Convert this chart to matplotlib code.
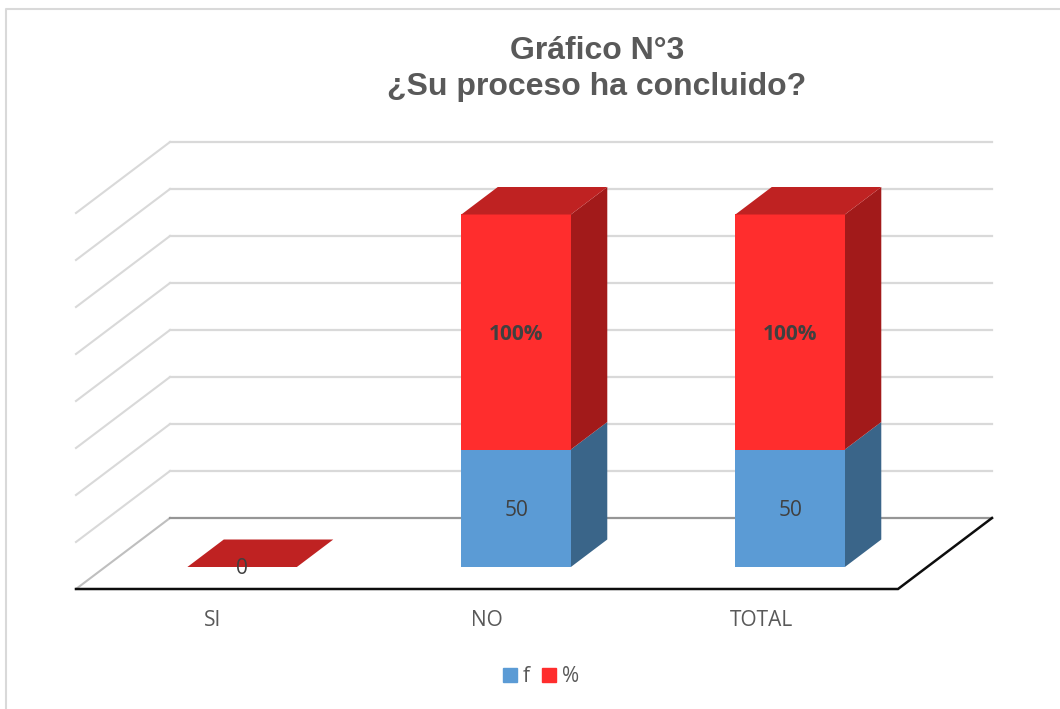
import matplotlib
matplotlib.use('Agg')
import matplotlib.pyplot as plt
from matplotlib.lines import Line2D
from matplotlib.patches import Patch

#data
categories = ['SI', 'NO', 'TOTAL']
f_values = [0, 50, 50]
pct_values = [0, 100, 100]
f_labels = ['0', '50', '50']
pct_labels = ['', '100%', '100%']
grid_values = [0, 20, 40, 60, 80, 100, 120, 140, 160]
title = 'Gráfico N°3\n¿Su proceso ha concluido?'

#size of the output png file
width = 1060
height = 709

#magic numbers for the fake 3d look, px per data unit and floor position
pxX = 274.0
pxY = 2.35
originX = 213
originY = 589
depthX = 94 / pxX
depthY = 71 / pxY
barW = 109.5 / pxX
barFront = 22 / 71.0
barBack = 49.5 / 71.0
labelDrop = 2 / pxY

BLUE = '#5B9BD5'
BLUE_SIDE = '#3A6589'
RED = '#FF2D2D'
RED_TOP = '#BF2222'
RED_SIDE = '#A21A1A'
TEXT = '#404040'


def proj(x, v, d):
    return x + d * depthX, v + d * depthY


def box(ax, x, v0, v1, front, side, top, z):
    left = x - barW / 2
    right = x + barW / 2
    if v1 > v0:
        a = [proj(right, v0, barFront), proj(right, v0, barBack),
             proj(right, v1, barBack), proj(right, v1, barFront)]
        ax.fill(*zip(*a), color=side, lw=0, zorder=z)
        a = [proj(left, v0, barFront), proj(right, v0, barFront),
             proj(right, v1, barFront), proj(left, v1, barFront)]
        ax.fill(*zip(*a), color=front, lw=0, zorder=z + 0.1)
    if top is not None:
        a = [proj(left, v1, barFront), proj(right, v1, barFront),
             proj(right, v1, barBack), proj(left, v1, barBack)]
        ax.fill(*zip(*a), color=top, lw=0, zorder=z + 0.2)


fig = plt.figure(figsize=(width / 100, height / 100), dpi=100)
ax = fig.add_axes([0, 0, 1, 1])
ax.set_xlim(-originX / pxX, (width - originX) / pxX)
ax.set_ylim((originY - height) / pxY, originY / pxY)
ax.axis('off')

#outer frame of the chart
fig.add_artist(Line2D([6 / width, 6 / width, 1], [0, 1 - 9 / height, 1 - 9 / height],
                      color='#D9D9D9', lw=1.5))

x0 = -0.5
x1 = len(categories) - 0.5

#walls
for v in grid_values:
    c = '#D9D9D9' if v > 0 else '#BFBFBF'
    p = [proj(x0, v, 0), proj(x0, v, 1)]
    ax.plot(*zip(*p), color=c, lw=1.5, zorder=1)
    c = '#D9D9D9' if v > 0 else '#969696'
    p = [proj(x0, v, 1), proj(x1, v, 1)]
    ax.plot(*zip(*p), color=c, lw=1.6, zorder=1)

#floor edges
p = [proj(x0, 0, 0), proj(x1, 0, 0), proj(x1, 0, 1)]
ax.plot(*zip(*p), color='#0D0D0D', lw=1.8, zorder=2, solid_joinstyle='miter')

#bars
for i in range(len(categories)):
    z = 3 + i
    box(ax, i, 0, f_values[i], BLUE, BLUE_SIDE, None, z)
    box(ax, i, f_values[i], f_values[i] + pct_values[i], RED, RED_SIDE, RED_TOP, z)
    xc, yc = proj(i, f_values[i] / 2, barFront)
    ax.text(xc, yc - labelDrop, f_labels[i], ha='center', va='center', color=TEXT,
            fontsize=15, family='Open Sans', zorder=10)
    if pct_labels[i]:
        xc, yc = proj(i, f_values[i] + pct_values[i] / 2, barFront)
        ax.text(xc, yc - labelDrop, pct_labels[i], ha='center', va='center', color=TEXT,
                fontsize=15, fontweight='bold', family='Open Sans', zorder=10)
    ax.text(i, -13.5, categories[i], ha='center', va='center', color='#595959',
            fontsize=15, family='Open Sans')

fig.text(597 / width, 1 - 69 / height, title, ha='center', va='center', color='#595959',
         fontsize=23, fontweight='bold', family='Liberation Sans', linespacing=1.3)

handles = [Patch(color=BLUE, label='f'), Patch(color=RED, label='%')]
fig.legend(handles=handles, loc='center', bbox_to_anchor=(541 / width, 1 - 677 / height),
           ncol=2, frameon=False, handlelength=0.67, handleheight=0.67, handletextpad=0.3,
           columnspacing=0.55, prop={'family': 'Open Sans', 'size': 15}, labelcolor='#595959')

fig.savefig('out.png', dpi=100)
